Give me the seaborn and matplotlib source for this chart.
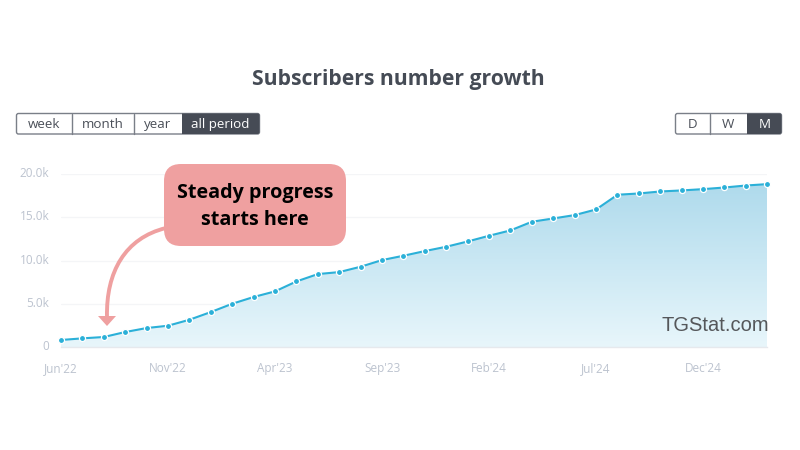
import numpy as np
import pandas as pd
import seaborn as sns
import matplotlib
matplotlib.use("Agg")
import matplotlib.pyplot as plt
from matplotlib.patches import FancyBboxPatch, Rectangle, PathPatch, Polygon
from matplotlib.path import Path
from matplotlib.transforms import ScaledTranslation

months = ["Jun'22","Jul'22","Aug'22","Sep'22","Oct'22","Nov'22","Dec'22","Jan'23","Feb'23","Mar'23","Apr'23","May'23",
          "Jun'23","Jul'23","Aug'23","Sep'23","Oct'23","Nov'23","Dec'23","Jan'24","Feb'24","Mar'24","Apr'24","May'24",
          "Jun'24","Jul'24","Aug'24","Sep'24","Oct'24","Nov'24","Dec'24","Jan'25","Feb'25","Mar'25"]
subscribers = [810,1000,1155,1730,2190,2460,3150,4040,5000,5780,6430,7580,
               8430,8660,9280,10050,10550,11090,11590,12200,12860,13480,14480,14860,
               15250,15900,17600,17750,17980,18100,18250,18440,18670,18830]
x_tick_labels = ["Jun'22","Nov'22","Apr'23","Sep'23","Feb'24","Jul'24","Dec'24"]
y_ticks = [0,5000,10000,15000,20000]
y_tick_labels = ["0","5.0k","10.0k","15.0k","20.0k"]
period_buttons = ["week","month","year","all period"]
scale_buttons = ["D","W","M"]
title = "Subscribers number growth"
callout = "Steady progress\nstarts here"
watermark = "TGStat.com"

sns.set_theme(style="white")
plt.rcParams["font.family"] = ["Open Sans", "DejaVu Sans"]

W, H = 800, 450
fig = plt.figure(figsize=(W/100, H/100), dpi=100, facecolor="white")
L, R, T, B = 61, 767.3, 174, 347
ax = fig.add_axes([L/W, 1-B/H, (R-L)/W, (B-T)/H])
df = pd.DataFrame({"i": range(len(months)), "month": months, "subs": subscribers})
LINE = "#2bb0d8"
GRID = "#f4f5f7"
ax.set_facecolor("white")

# gradient area
top = 19000
grad = np.linspace(0, 1, 256).reshape(-1, 1)
cmap = matplotlib.colors.LinearSegmentedColormap.from_list("g", ["#aedaec", "#e8f6fb"])
im = ax.imshow(grad, extent=[0, len(months)-1, 0, top], origin="upper", aspect="auto", cmap=cmap, zorder=2)
poly = ax.fill_between(df["i"], 0, df["subs"], color="none", zorder=2)
im.set_clip_path(poly.get_paths()[0], transform=ax.transData)
ax.set_xlim(0, len(months)-1)
ax.set_ylim(0, 20000)

sns.lineplot(data=df, x="i", y="subs", ax=ax, color=LINE, linewidth=1.5, marker="o", markersize=4.4,
             markeredgecolor="white", markeredgewidth=0.9, zorder=3, clip_on=False, legend=False)

ax.set_xlabel(""); ax.set_ylabel("")
ax.set_xticks([months.index(m) for m in x_tick_labels])
ax.set_xticklabels(x_tick_labels)
ax.set_yticks(y_ticks)
ax.set_yticklabels(y_tick_labels)
ax.tick_params(axis="x", length=4, width=0.8, color="#e3e6eb", labelcolor="#bcc3cf", labelsize=8.5, pad=7)
ax.tick_params(axis="y", length=0, labelcolor="#bcc3cf", labelsize=8.5, pad=8.5)
for lab in ax.get_yticklabels():
    lab.set_transform(lab.get_transform() + ScaledTranslation(0, 2/72*0.72*1.0, fig.dpi_scale_trans))
ax.grid(axis="y", color=GRID, linewidth=0.9, zorder=0)
ax.set_axisbelow(True)
for s in ["top", "right", "left"]:
    ax.spines[s].set_visible(False)
ax.spines["bottom"].set_color("#e6e9ed")
ax.spines["bottom"].set_linewidth(1)

# overlay in pixel coordinates
ov = fig.add_axes([0, 0, 1, 1], facecolor="none")
ov.set_xlim(0, W); ov.set_ylim(H, 0); ov.axis("off")
ov.text(398.5, 79, title, ha="center", va="center", fontsize=15.2, fontweight="bold", color="#454b55")

DARK = "#464b55"
def button_group(labels, edges, y0, y1, active):
    x0, x1 = edges[0], edges[-1]
    frame = FancyBboxPatch((x0, y0), x1-x0, y1-y0, boxstyle="round,pad=0,rounding_size=2",
                           fc="white", ec="#7a7f88", lw=1, zorder=2)
    ov.add_patch(frame)
    for i, lab in enumerate(labels):
        a, b = edges[i], edges[i+1]
        on = lab == active
        if on:
            r = Rectangle((a, y0-1), b-a+1, y1-y0+2, fc=DARK, ec="none", zorder=3)
            ov.add_patch(r)
            r.set_clip_path(frame)
        elif i > 0:
            ov.plot([a, a], [y0, y1], color="#7a7f88", lw=1, zorder=3)
        ov.text((a+b)/2, (y0+y1)/2+0.3, lab, ha="center", va="center", fontsize=9.6,
                color="white" if on else "#4a4f58", zorder=4)

button_group(period_buttons, [16.5, 71.5, 133.5, 181.5, 259.5], 113.5, 134, "all period")
button_group(scale_buttons, [675.5, 709.5, 747, 781.5], 113.5, 134, "M")

# callout
PINK = "#efa0a0"
ov.add_patch(FancyBboxPatch((164, 164), 182, 82, boxstyle="round,pad=0,rounding_size=17",
                            fc=PINK, ec="none", zorder=5))
ov.text(255, 206.5, callout, ha="center", va="center", fontsize=14.2, fontweight="bold",
        color="black", linespacing=1.42, zorder=6)
arrow = Path([(166, 228), (125, 238), (106, 272), (107, 317)],
             [Path.MOVETO, Path.CURVE4, Path.CURVE4, Path.CURVE4])
ov.add_patch(PathPatch(arrow, fc="none", ec=PINK, lw=2.8, capstyle="butt", zorder=4))
ov.add_patch(Polygon([(98, 316), (116, 316), (107, 326)], closed=True, fc=PINK, ec="none", zorder=4))

ov.text(769.5, 325.5, watermark, ha="right", va="center", fontsize=14.5, color="#55575a",
        family=["Liberation Sans"], zorder=6)

fig.savefig("out.png", dpi=100, facecolor="white")
